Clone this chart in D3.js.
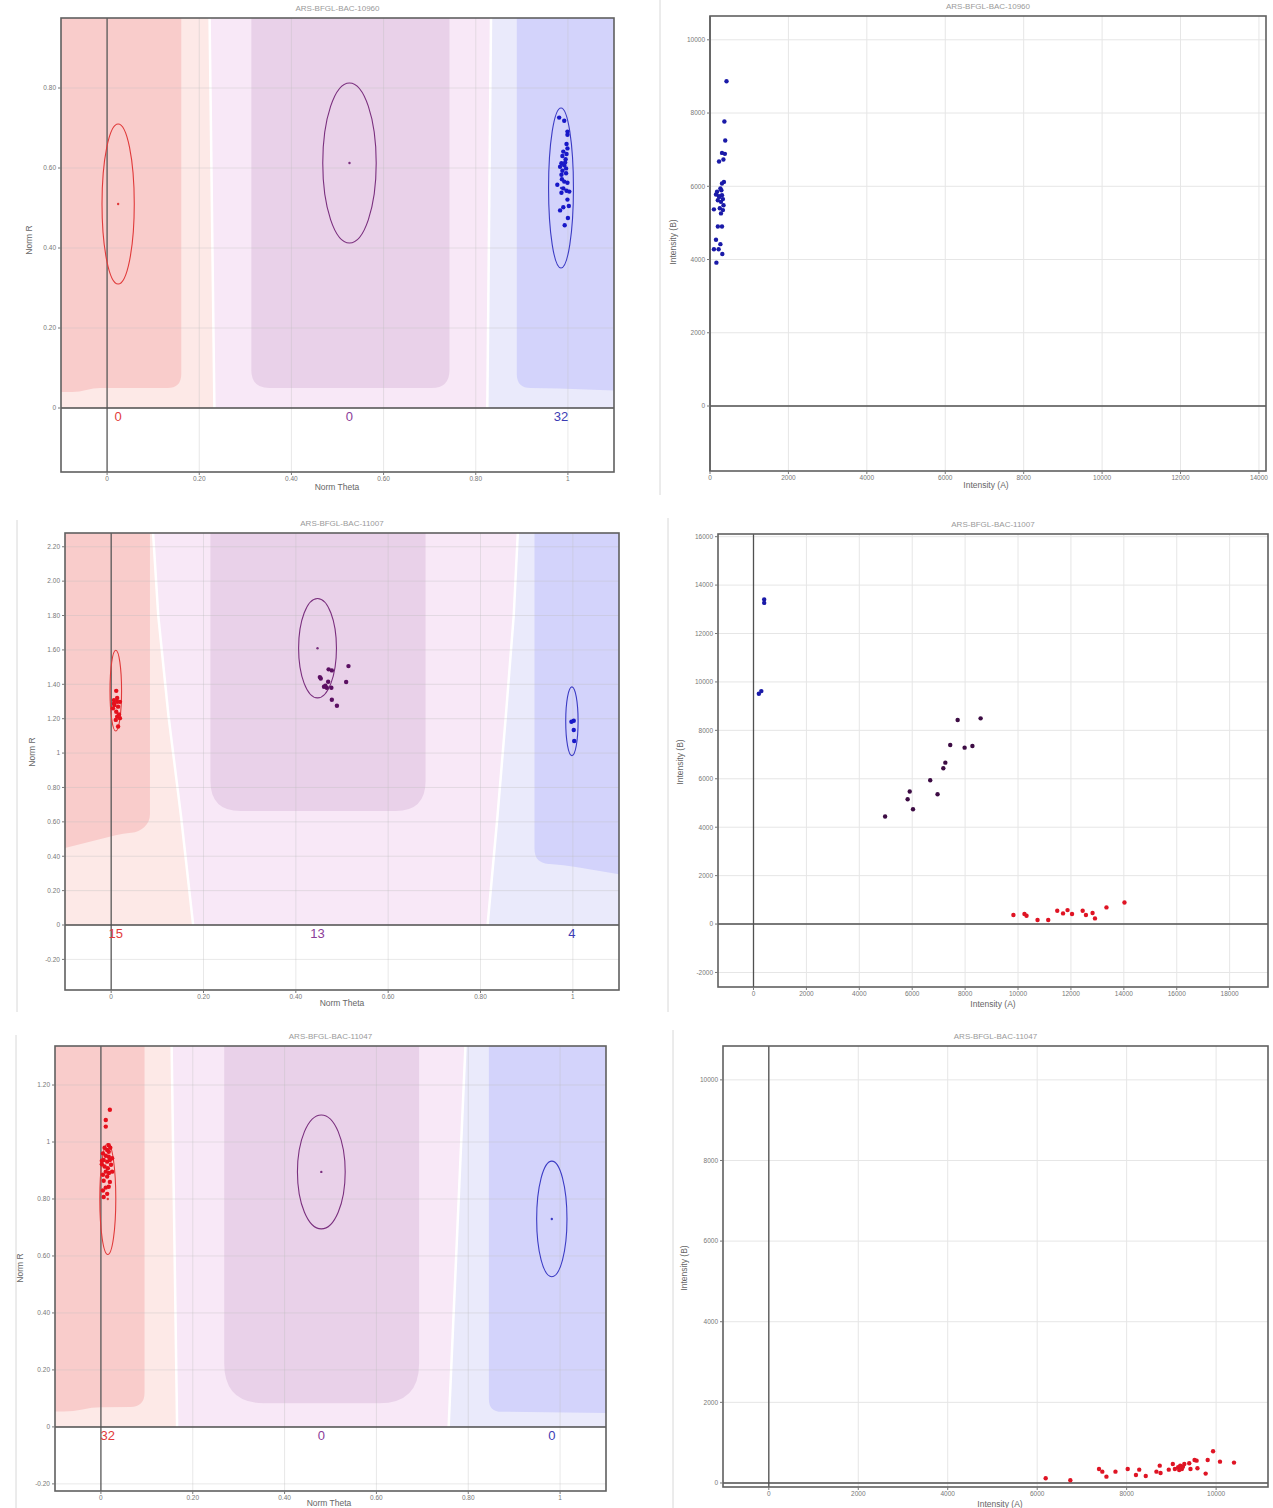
<!DOCTYPE html>
<html>
<head>
<meta charset="utf-8">
<script src="https://cdn.jsdelivr.net/npm/d3@7"></script>
<style>
  body { margin: 0; background: #fff; }
  svg { display: block; font-family: "Liberation Sans", Arial, sans-serif; }
</style>
</head>
<body>
<svg id="chart" width="1273" height="1508"></svg>
<script>
// GenomeStudio style cluster plots: Norm Theta/R (left) and raw intensities (right)

// ---- data ----
const snpNames = ['ARS-BFGL-BAC-10960', 'ARS-BFGL-BAC-11007', 'ARS-BFGL-BAC-11047'];
const genotypes = ['AA', 'AB', 'BB'];

const thetaTicks = [0, 0.2, 0.4, 0.6, 0.8, 1];
const thetaDomain = [-0.1, 1.1];
const r1Ticks = [0, 0.2, 0.4, 0.6, 0.8];
const r2Ticks = [-0.2, 0, 0.2, 0.4, 0.6, 0.8, 1, 1.2, 1.4, 1.6, 1.8, 2.0, 2.2];
const r3Ticks = [-0.2, 0, 0.2, 0.4, 0.6, 0.8, 1, 1.2];
const r1Domain = [-0.16, 0.975];
const r2Domain = [-0.378, 2.28];
const r3Domain = [-0.225, 1.337];

const int1XTicks = [0, 2000, 4000, 6000, 8000, 10000, 12000, 14000];
const int1YTicks = [0, 2000, 4000, 6000, 8000, 10000];
const int2XTicks = [0, 2000, 4000, 6000, 8000, 10000, 12000, 14000, 16000, 18000];
const int2YTicks = [-2000, 0, 2000, 4000, 6000, 8000, 10000, 12000, 14000, 16000];
const int3XTicks = [0, 2000, 4000, 6000, 8000, 10000];
const int3YTicks = [0, 2000, 4000, 6000, 8000, 10000];
const int1XDomain = [0, 14180];
const int1YDomain = [-1775, 10650];
const int2XDomain = [-1342, 19450];
const int2YDomain = [-2600, 16110];
const int3XDomain = [-1024, 11160];
const int3YDomain = [-100, 10840];

// cluster counts per genotype (AA, AB, BB)
const counts1 = [0, 0, 32];
const counts2 = [15, 13, 4];
const counts3 = [32, 0, 0];

// cluster ellipses: [theta, R, sd theta, sd R]
const clusters1 = [[0.024, 0.51, 0.035, 0.2], [0.526, 0.6125, 0.058, 0.2], [0.985, 0.55, 0.027, 0.2]];
const clusters2 = [[0.01, 1.363, 0.0125, 0.235], [0.447, 1.61, 0.041, 0.289], [0.998, 1.185, 0.0134, 0.2]];
const clusters3 = [[0.015, 0.80, 0.0174, 0.195], [0.48, 0.895, 0.052, 0.2], [0.982, 0.73, 0.033, 0.203]];

// call-region outlines in (theta, R)
const zones1 = {
  b1: [[0.22, 1.2], [0.233, -0.01]],
  b2: [[0.835, 1.2], [0.825, -0.01]],
  aa: [[-0.2, 1.3], [0.161, 1.3], [0.161, 0.05], [-0.03, 0.05], [-0.06, 0.04], [-0.2, 0.04]],
  ab: [[0.313, 1.3], [0.743, 1.3], [0.743, 0.05], [0.313, 0.05]],
  bb: [[0.889, 1.3], [1.2, 1.3], [1.2, 0.04], [0.95, 0.05], [0.889, 0.05]]
};
const zones2 = {
  b1: [[0.088, 2.4], [0.102, 1.8], [0.124, 1.22], [0.151, 0.64], [0.178, -0.01]],
  b2: [[0.883, 2.4], [0.872, 1.8], [0.855, 1.22], [0.837, 0.64], [0.815, -0.01]],
  aa: [[-0.2, 2.5], [0.084, 2.5], [0.084, 0.6], [0.06, 0.54], [0.026, 0.533], [-0.2, 0.38]],
  ab: [[0.215, 2.5], [0.681, 2.5], [0.681, 0.663], [0.215, 0.663]],
  bb: [[0.917, 2.5], [1.2, 2.5], [1.2, 0.25], [0.98, 0.35], [0.917, 0.36]]
};
const zones3 = {
  b1: [[0.153, 1.45], [0.166, -0.01]],
  b2: [[0.797, 1.45], [0.757, -0.01]],
  aa: [[-0.2, 1.5], [0.095, 1.5], [0.095, 0.071], [-0.02, 0.068], [-0.06, 0.054], [-0.2, 0.054]],
  ab: [[0.2685, 1.5], [0.693, 1.5], [0.693, 0.083], [0.2685, 0.083]],
  bb: [[0.845, 1.5], [1.2, 1.5], [1.2, 0.047], [0.9, 0.053], [0.845, 0.053]]
};

// samples, Norm Theta / Norm R
const polar1BB = [[0.981, 0.726], [0.992, 0.718], [0.999, 0.691], [0.999, 0.683], [0.997, 0.66], [0.999, 0.649],
  [0.99, 0.641], [0.997, 0.635], [0.988, 0.63], [0.995, 0.622], [0.986, 0.612], [0.992, 0.607], [0.983, 0.603],
  [0.996, 0.599], [0.988, 0.593], [0.986, 0.583], [0.996, 0.587], [0.999, 0.563], [0.992, 0.566], [0.977, 0.558],
  [0.99, 0.549], [1.003, 0.541], [0.997, 0.543], [0.986, 0.538], [0.999, 0.521], [1.002, 0.505], [0.99, 0.502],
  [1.0, 0.475], [0.993, 0.457], [0.983, 0.494], [0.987, 0.572], [0.994, 0.614]];
const polar2AA = [[0.011, 1.362], [0.006, 1.308], [0.013, 1.298], [0.019, 1.298], [0.007, 1.279], [0.015, 1.27],
  [0.004, 1.26], [0.011, 1.24], [0.017, 1.225], [0.013, 1.212], [0.019, 1.203], [0.01, 1.193], [0.015, 1.155],
  [0.006, 1.289], [0.013, 1.32]];
const polar2AB = [[0.514, 1.506], [0.471, 1.487], [0.478, 1.481], [0.452, 1.442], [0.454, 1.434], [0.509, 1.413],
  [0.47, 1.415], [0.461, 1.386], [0.467, 1.38], [0.477, 1.38], [0.478, 1.31], [0.489, 1.275], [0.464, 1.392]];
const polar2BB = [[1.002, 1.188], [0.997, 1.182], [1.002, 1.134], [1.003, 1.07]];
const polar3AA = [[0.0195, 1.113], [0.0106, 1.077], [0.0106, 1.054], [0.017, 0.989], [0.008, 0.98], [0.0136, 0.972],
  [0.0204, 0.98], [0.0044, 0.96], [0.0106, 0.952], [0.017, 0.948], [0.006, 0.937], [0.0136, 0.931], [0.0195, 0.937],
  [0.002, 0.922], [0.008, 0.914], [0.015, 0.908], [0.022, 0.92], [0.0106, 0.896], [0.0175, 0.891], [0.0044, 0.885],
  [0.0136, 0.879], [0.006, 0.864], [0.0195, 0.86], [0.0106, 0.84], [0.017, 0.843], [0.0044, 0.83], [0.0136, 0.818],
  [0.006, 0.807], [0.002, 0.934], [0.0244, 0.943], [0.017, 0.966], [0.0244, 0.896]];

// samples, Intensity A / Intensity B
const int1BB = [[421, 8868], [367, 7768], [388, 7250], [306, 6912], [380, 6885], [230, 6677], [342, 6730],
  [355, 6120], [306, 6075], [265, 5938], [153, 5775], [230, 5730], [306, 5757], [200, 5620], [280, 5575],
  [330, 5650], [100, 5370], [250, 5400], [330, 5350], [280, 5260], [200, 4900], [306, 4900], [153, 4540],
  [265, 4420], [100, 4280], [220, 4280], [314, 4150], [163, 3915], [240, 5710], [180, 5850], [290, 5890], [345, 5480]];
const int2AA = [[9826, 371], [10243, 412], [10322, 344], [10738, 165], [11142, 165], [11483, 550], [11702, 440],
  [11872, 577], [12042, 412], [12444, 550], [12568, 371], [12818, 454], [12909, 234], [13343, 687], [14024, 893]];
const int2AB = [[4975, 4441], [5827, 5155], [5906, 5472], [6030, 4743], [6680, 5939], [6958, 5361], [7176, 6433],
  [7252, 6667], [7437, 7395], [7718, 8426], [7981, 7285], [8276, 7354], [8586, 8495]];
const int2BB = [[404, 13403], [404, 13265], [203, 9513], [295, 9622]];
const int3AA = [[6190, 116], [6741, 66], [7382, 347], [7456, 281], [7548, 157], [7750, 281], [8024, 347],
  [8208, 198], [8281, 330], [8427, 174], [8666, 281], [8740, 430], [8758, 248], [8942, 330], [9032, 471],
  [9078, 347], [9151, 389], [9198, 430], [9234, 347], [9289, 471], [9399, 488], [9427, 347], [9518, 571],
  [9564, 554], [9583, 364], [9766, 232], [9812, 571], [9932, 786], [10087, 529], [10400, 505], [9258, 405], [9175, 322]];

// ---- styling ----
const zoneDark = { aa: '#f9cccb', ab: '#e9d1e9', bb: '#d3d3fb' };
const zoneLight = ['#fde9e7', '#f8e8f7', '#eaeafb'];
const ellipseColor = ['#e03a3a', '#7a2f7e', '#3b3bc4'];
const countColor = ['#e23b3b', '#8b3c99', '#3c3cb4'];
const pointColor = { AA: '#e5101c', AB: '#5b0f62', BB: '#1818c8' };
const intColor = { AA: '#df1424', AB: '#3d0c44', BB: '#1a1aa8' };

const svg = d3.select('#chart');
const fmtNorm = v => v === 0 ? '0' : v === 1 ? '1' : v.toFixed(2);

// window separator lines from the screenshot
[[660, 0, 495], [668, 518, 1012], [673, 1030, 1508], [17, 520, 1012], [16, 1035, 1508]].forEach(([x, y0, y1]) => {
  svg.append('line').attr('x1', x).attr('x2', x).attr('y1', y0).attr('y2', y1)
    .attr('stroke', '#d8d8d8').attr('stroke-width', 1);
});

// rounded polygon in pixel space
function roundedPath(pts, r) {
  const n = pts.length;
  let d = '';
  for (let i = 0; i < n; i++) {
    const p0 = pts[(i - 1 + n) % n], p1 = pts[i], p2 = pts[(i + 1) % n];
    const l1 = Math.hypot(p0[0] - p1[0], p0[1] - p1[1]);
    const l2 = Math.hypot(p2[0] - p1[0], p2[1] - p1[1]);
    const k = Math.min(r, l1 / 2, l2 / 2);
    const a = [p1[0] + (p0[0] - p1[0]) * k / l1, p1[1] + (p0[1] - p1[1]) * k / l1];
    const b = [p1[0] + (p2[0] - p1[0]) * k / l2, p1[1] + (p2[1] - p1[1]) * k / l2];
    d += (i === 0 ? 'M' : 'L') + a[0] + ',' + a[1] + 'Q' + p1[0] + ',' + p1[1] + ' ' + b[0] + ',' + b[1];
  }
  return d + 'Z';
}

function frameAndTitle(g, box, title) {
  g.append('rect').attr('x', box.l).attr('y', box.t).attr('width', box.r - box.l).attr('height', box.b - box.t)
    .attr('fill', 'none').attr('stroke', '#606060').attr('stroke-width', 1.6);
  g.append('text').attr('x', (box.l + box.r) / 2).attr('y', box.t - 7).attr('text-anchor', 'middle')
    .attr('fill', '#9a9a9a').style('font-size', '8px').text(title);
}

function axesText(g, box, x, y, xTicks, yTicks, fmt, xLabel, yLabel, labelPos) {
  // tick marks + labels
  g.selectAll('.xt').data(xTicks).enter().append('line')
    .attr('x1', d => x(d)).attr('x2', d => x(d)).attr('y1', box.b).attr('y2', box.b + 3).attr('stroke', '#777');
  g.selectAll('.xl').data(xTicks).enter().append('text')
    .attr('x', d => x(d)).attr('y', box.b + 9).attr('text-anchor', 'middle')
    .attr('fill', '#777').style('font-size', '6.5px').text(fmt);
  g.selectAll('.yt').data(yTicks).enter().append('line')
    .attr('x1', box.l - 3).attr('x2', box.l).attr('y1', d => y(d)).attr('y2', d => y(d)).attr('stroke', '#777');
  g.selectAll('.yl').data(yTicks).enter().append('text')
    .attr('x', box.l - 5).attr('y', d => y(d) + 2.3).attr('text-anchor', 'end')
    .attr('fill', '#777').style('font-size', '6.5px').text(fmt);
  g.append('text').attr('x', labelPos.xx).attr('y', labelPos.xy).attr('text-anchor', 'middle')
    .attr('fill', '#666').style('font-size', '8.5px').text(xLabel);
  g.append('text').attr('transform', `translate(${labelPos.yx},${labelPos.yy}) rotate(-90)`)
    .attr('text-anchor', 'middle').attr('fill', '#666').style('font-size', '8.5px').text(yLabel);
}

function drawPolar(id, box, rDomain, rTicks, zones, clusters, counts, samples, title, labelPos) {
  const g = svg.append('g');
  const x = d3.scaleLinear().domain(thetaDomain).range([box.l, box.r]);
  const y = d3.scaleLinear().domain(rDomain).range([box.b, box.t]);
  const px = pts => pts.map(p => [x(p[0]), y(p[1])]);

  g.append('clipPath').attr('id', 'clip' + id).append('rect')
    .attr('x', box.l).attr('y', box.t).attr('width', box.r - box.l).attr('height', y(0) - box.t);
  const zg = g.append('g').attr('clip-path', `url(#clip${id})`);

  const top = rDomain[1] + 0.5, x0 = thetaDomain[0] - 0.2, x1 = thetaDomain[1] + 0.2;
  const b1 = zones.b1, b2 = zones.b2;
  const lightPolys = [
    [[x0, top], ...b1, [x0, -0.1]],
    [...b1, ...b2.slice().reverse()],
    [...b2, [x1, -0.1], [x1, top]]
  ];
  lightPolys.forEach((poly, i) => {
    zg.append('path').attr('d', d3.line()(px(poly)) + 'Z').attr('fill', zoneLight[i]);
  });
  [b1, b2].forEach(b => {
    zg.append('path').attr('d', d3.line()(px(b))).attr('fill', 'none')
      .attr('stroke', '#fff').attr('stroke-width', 2.5);
  });
  zg.append('path').attr('d', roundedPath(px(zones.aa), 14)).attr('fill', zoneDark.aa);
  zg.append('path').attr('d', roundedPath(px(zones.ab), labelPos.abRadius)).attr('fill', zoneDark.ab);
  zg.append('path').attr('d', roundedPath(px(zones.bb), 14)).attr('fill', zoneDark.bb);

  // grid
  const gridColor = 'rgba(190,190,190,0.35)';
  g.selectAll('.gx').data(thetaTicks).enter().append('line')
    .attr('x1', d => x(d)).attr('x2', d => x(d)).attr('y1', box.t).attr('y2', box.b)
    .attr('stroke', gridColor).attr('stroke-width', 1);
  g.selectAll('.gy').data(rTicks).enter().append('line')
    .attr('x1', box.l).attr('x2', box.r).attr('y1', d => y(d)).attr('y2', d => y(d))
    .attr('stroke', gridColor).attr('stroke-width', 1);

  // zero lines
  g.append('line').attr('x1', x(0)).attr('x2', x(0)).attr('y1', box.t).attr('y2', box.b)
    .attr('stroke', '#505050').attr('stroke-width', 1.2);
  g.append('line').attr('x1', box.l).attr('x2', box.r).attr('y1', y(0)).attr('y2', y(0))
    .attr('stroke', '#505050').attr('stroke-width', 1.5);

  // ellipses and centroid dots
  clusters.forEach((c, i) => {
    g.append('ellipse').attr('cx', x(c[0])).attr('cy', y(c[1]))
      .attr('rx', x(c[0] + c[2]) - x(c[0])).attr('ry', y(c[1]) - y(c[1] + c[3]))
      .attr('fill', 'none').attr('stroke', ellipseColor[i]).attr('stroke-width', 1.1);
    g.append('circle').attr('cx', x(c[0])).attr('cy', y(c[1])).attr('r', 1.2).attr('fill', ellipseColor[i]);
    g.append('text').attr('x', x(c[0])).attr('y', y(0) + 13).attr('text-anchor', 'middle')
      .attr('fill', countColor[i]).style('font-size', '13px').text(counts[i]);
  });

  // samples
  Object.entries(samples).forEach(([gt, pts]) => {
    g.selectAll('.s' + gt).data(pts).enter().append('circle')
      .attr('cx', d => x(d[0])).attr('cy', d => y(d[1])).attr('r', 2.2).attr('fill', pointColor[gt]);
  });

  frameAndTitle(g, box, title);
  axesText(g, box, x, y, thetaTicks, rTicks, fmtNorm, 'Norm Theta', 'Norm R', labelPos);
}

function drawIntensity(box, xDomain, yDomain, xTicks, yTicks, samples, title, labelPos) {
  const g = svg.append('g');
  const x = d3.scaleLinear().domain(xDomain).range([box.l, box.r]);
  const y = d3.scaleLinear().domain(yDomain).range([box.b, box.t]);

  g.selectAll('.gx').data(xTicks).enter().append('line')
    .attr('x1', d => x(d)).attr('x2', d => x(d)).attr('y1', box.t).attr('y2', box.b)
    .attr('stroke', '#e6e6e6').attr('stroke-width', 1);
  g.selectAll('.gy').data(yTicks).enter().append('line')
    .attr('x1', box.l).attr('x2', box.r).attr('y1', d => y(d)).attr('y2', d => y(d))
    .attr('stroke', '#e6e6e6').attr('stroke-width', 1);

  g.append('line').attr('x1', x(0)).attr('x2', x(0)).attr('y1', box.t).attr('y2', box.b)
    .attr('stroke', '#505050').attr('stroke-width', 1.3);
  g.append('line').attr('x1', box.l).attr('x2', box.r).attr('y1', y(0)).attr('y2', y(0))
    .attr('stroke', '#505050').attr('stroke-width', 1.5);

  Object.entries(samples).forEach(([gt, pts]) => {
    g.selectAll('.s' + gt).data(pts).enter().append('circle')
      .attr('cx', d => x(d[0])).attr('cy', d => y(d[1])).attr('r', 2.2).attr('fill', intColor[gt]);
  });

  frameAndTitle(g, box, title);
  axesText(g, box, x, y, xTicks, yTicks, d => String(d), 'Intensity (A)', 'Intensity (B)', labelPos);
}

drawPolar(1, { l: 61, r: 614, t: 18, b: 472 }, r1Domain, r1Ticks, zones1, clusters1, counts1,
  { BB: polar1BB }, snpNames[0], { xx: 337, xy: 490, yx: 32, yy: 240, abRadius: 18 });
drawIntensity({ l: 710, r: 1266, t: 16, b: 471 }, int1XDomain, int1YDomain, int1XTicks, int1YTicks,
  { BB: int1BB }, snpNames[0], { xx: 986, xy: 488, yx: 676, yy: 242 });

drawPolar(2, { l: 65, r: 619, t: 533, b: 990 }, r2Domain, r2Ticks, zones2, clusters2, counts2,
  { AA: polar2AA, AB: polar2AB, BB: polar2BB }, snpNames[1], { xx: 342, xy: 1006, yx: 35, yy: 752, abRadius: 30 });
drawIntensity({ l: 718, r: 1268, t: 534, b: 987 }, int2XDomain, int2YDomain, int2XTicks, int2YTicks,
  { AA: int2AA, AB: int2AB, BB: int2BB }, snpNames[1], { xx: 993, xy: 1007, yx: 683, yy: 762 });

drawPolar(3, { l: 55, r: 606, t: 1046, b: 1491 }, r3Domain, r3Ticks, zones3, clusters3, counts3,
  { AA: polar3AA }, snpNames[2], { xx: 329, xy: 1506, yx: 23, yy: 1268, abRadius: 40 });
drawIntensity({ l: 723, r: 1268, t: 1046, b: 1487 }, int3XDomain, int3YDomain, int3XTicks, int3YTicks,
  { AA: int3AA }, snpNames[2], { xx: 1000, xy: 1507, yx: 687, yy: 1268 });
</script>
</body>
</html>
